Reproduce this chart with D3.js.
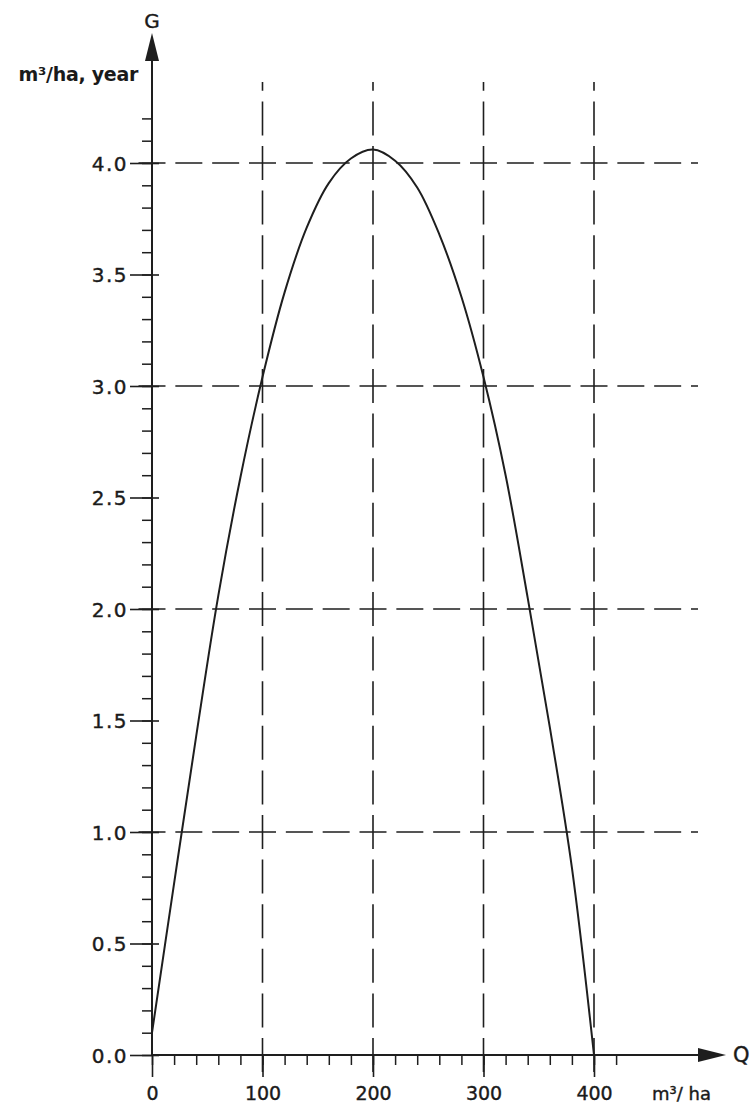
<!DOCTYPE html>
<html>
<head>
<meta charset="utf-8">
<script src="https://cdn.jsdelivr.net/npm/d3@7"></script>
<style>
  html, body { margin: 0; padding: 0; background: #fff; }
  svg { display: block; }
  text { font-family: "DejaVu Sans", sans-serif; fill: #1a1a1a; }
</style>
</head>
<body>
<svg id="chart" width="750" height="1108"></svg>
<script>
// ---- data ----
const qValues = [0, 20, 40, 60, 80, 100, 120, 140, 160, 180, 200, 220, 240, 260, 280, 300, 320, 340, 360, 380, 400];
const gValues = [0.10, 0.77, 1.43, 2.06, 2.59, 3.04, 3.42, 3.71, 3.91, 4.02, 4.06, 4.01, 3.89, 3.68, 3.40, 3.04, 2.60, 2.05, 1.47, 0.84, 0.0];
const xMajorTicks = [0, 100, 200, 300, 400];
const xMinorTicks = d3.range(0, 421, 20);
const yMajorTicks = [0, 0.5, 1.0, 1.5, 2.0, 2.5, 3.0, 3.5, 4.0];
const yMinorTicks = d3.range(0, 43).map(i => i / 10);
const xGrid = [100, 200, 300, 400];
const yGrid = [1.0, 2.0, 3.0, 4.0];
const xAxisTitle = "m³/ ha";
const yAxisTitle = "m³/ha, year";
const xAxisLetter = "Q";
const yAxisLetter = "G";

// ---- scales ----
const svg = d3.select("#chart");
const x = d3.scaleLinear().domain([0, 400]).range([152, 594]);
const y = d3.scaleLinear().domain([0, 4]).range([1055, 163]);
const ink = "#1e1e1e";

// ---- grid (dashed, dash centred on each crossing) ----
const hPeriod = (x(100) - x(0)) / 3, hDash = 27;
const vPeriod = (y(0) - y(1)) / 5, vDash = 34;
svg.append("g").selectAll("line").data(yGrid).join("line")
  .attr("x1", x(0) - hDash / 2).attr("x2", 698)
  .attr("y1", d => y(d)).attr("y2", d => y(d))
  .attr("stroke", ink).attr("stroke-width", 1.6)
  .attr("stroke-dasharray", `${hDash},${hPeriod - hDash}`);
svg.append("g").selectAll("line").data(xGrid).join("line")
  .attr("x1", d => x(d)).attr("x2", d => x(d))
  .attr("y1", y(0) + vDash / 2).attr("y2", 82)
  .attr("stroke", ink).attr("stroke-width", 1.6)
  .attr("stroke-dasharray", `${vDash},${vPeriod - vDash}`);

// ---- y axis ----
const yMinor = svg.append("g").attr("transform", `translate(${x(0)},0)`)
  .call(d3.axisLeft(y).tickValues(yMinorTicks).tickSize(10).tickFormat(""));
yMinor.select(".domain").remove();
yMinor.selectAll("line").attr("stroke", ink).attr("stroke-width", 1.5);

const yMajor = svg.append("g").attr("transform", `translate(${x(0)},0)`)
  .call(d3.axisLeft(y).tickValues(yMajorTicks).tickSize(22).tickPadding(2)
    .tickFormat(d3.format(".1f")));
yMajor.select(".domain").remove();
yMajor.selectAll("line").attr("x1", 7).attr("stroke", ink).attr("stroke-width", 1.6);
yMajor.selectAll("text").attr("font-size", 20).attr("letter-spacing", 1.5)
  .attr("font-family", "DejaVu Sans").attr("fill", ink).attr("dy", "0.36em")
  .attr("stroke", ink).attr("stroke-width", 0.4);

// ---- x axis ----
const xMinor = svg.append("g").attr("transform", `translate(0,${y(0)})`)
  .call(d3.axisBottom(x).tickValues(xMinorTicks).tickSize(10).tickFormat(""));
xMinor.select(".domain").remove();
xMinor.selectAll("line").attr("stroke", ink).attr("stroke-width", 1.5);

const xMajor = svg.append("g").attr("transform", `translate(0,${y(0)})`)
  .call(d3.axisBottom(x).tickValues(xMajorTicks).tickSize(22).tickPadding(6)
    .tickFormat(d3.format("d")));
xMajor.select(".domain").remove();
xMajor.selectAll("line").attr("stroke", ink).attr("stroke-width", 1.6);
xMajor.selectAll("text").attr("font-size", 19).attr("font-family", "DejaVu Sans")
  .attr("fill", ink).attr("dy", "0.9em").attr("stroke", ink).attr("stroke-width", 0.4);

// axis lines with arrows
svg.append("line").attr("x1", x(0)).attr("x2", x(0)).attr("y1", y(0)).attr("y2", 50)
  .attr("stroke", ink).attr("stroke-width", 2);
svg.append("path").attr("d", `M${x(0)},33 L${x(0) - 7},61 L${x(0) + 7},61 Z`).attr("fill", ink);
svg.append("line").attr("x1", x(0)).attr("x2", 712).attr("y1", y(0)).attr("y2", y(0))
  .attr("stroke", ink).attr("stroke-width", 2);
svg.append("path").attr("d", `M726,${y(0)} L698,${y(0) - 7} L698,${y(0) + 7} Z`).attr("fill", ink);

// ---- curve ----
const pts = qValues.map((q, i) => [q, gValues[i]]);
svg.append("path").datum(pts)
  .attr("d", d3.line().x(d => x(d[0])).y(d => y(d[1])).curve(d3.curveCatmullRom.alpha(0.5)))
  .attr("fill", "none").attr("stroke", ink).attr("stroke-width", 2);

// ---- titles ----
svg.append("text").attr("x", x(0)).attr("y", 28).attr("text-anchor", "middle")
  .attr("font-size", 20).attr("stroke", ink).attr("stroke-width", 0.4).text(yAxisLetter);
svg.append("text").attr("x", 138).attr("y", 81).attr("text-anchor", "end")
  .attr("font-size", 19).attr("font-weight", "bold").attr("letter-spacing", -0.3)
  .text(yAxisTitle);
svg.append("text").attr("x", 733).attr("y", 1062).attr("font-size", 21)
  .attr("stroke", ink).attr("stroke-width", 0.4).text(xAxisLetter);
svg.append("text").attr("x", 652).attr("y", 1100).attr("font-size", 18)
  .attr("stroke", ink).attr("stroke-width", 0.4).text(xAxisTitle);
</script>
</body>
</html>
